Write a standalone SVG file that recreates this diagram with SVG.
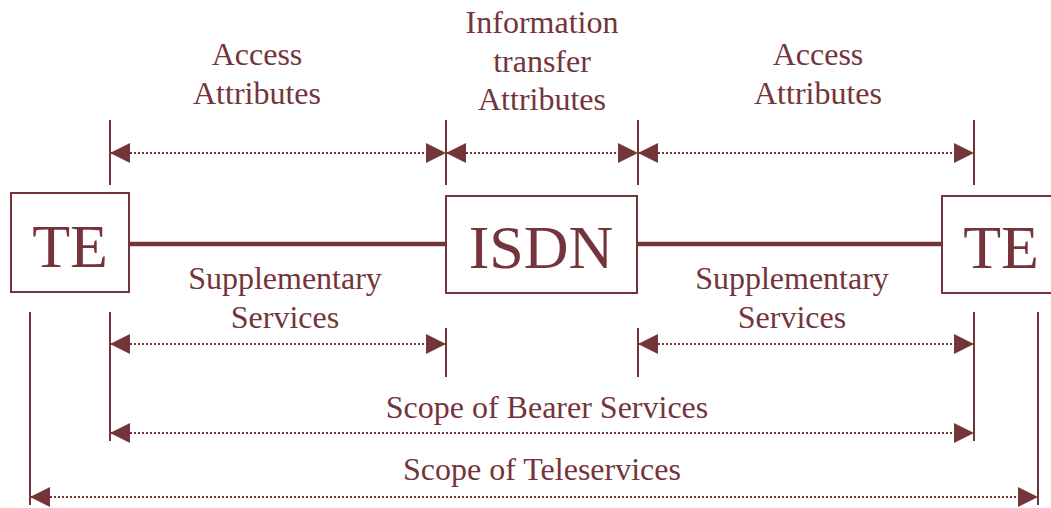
<svg xmlns="http://www.w3.org/2000/svg" width="1051" height="508" viewBox="0 0 1051 508">
  <style>
    .t { font-family: "Liberation Serif", "Times New Roman", serif; fill: #74353a; text-anchor: middle; }
    .lbl { font-size: 32px; }
    .big { font-size: 62px; }
    .box { fill: #ffffff; stroke: #74353a; stroke-width: 2; }
    .link { stroke: #74353a; stroke-width: 4.5; fill: none; }
    .tick { stroke: #74353a; stroke-width: 2; fill: none; }
    .dim { stroke: #74353a; stroke-width: 2; stroke-dasharray: 2 2; fill: none; }
    .head { fill: #74353a; }
  </style>
  <defs>
    <marker id="arr" viewBox="0 0 20 20" refX="20" refY="10" markerWidth="20" markerHeight="20" markerUnits="userSpaceOnUse" orient="auto-start-reverse">
      <path d="M0,0 L20,10 L0,20 Z" class="head"/>
    </marker>
  </defs>

  <g id="connectors">
    <line class="link" x1="129" y1="244" x2="446" y2="244"/>
    <line class="link" x1="637" y1="244" x2="942" y2="244"/>
    <line class="tick" x1="110" y1="120" x2="110" y2="185"/>
    <line class="tick" x1="446" y1="120" x2="446" y2="185"/>
    <line class="tick" x1="638" y1="120" x2="638" y2="185"/>
    <line class="tick" x1="974" y1="120" x2="974" y2="185"/>
    <line class="tick" x1="30" y1="312" x2="30" y2="505"/>
    <line class="tick" x1="110" y1="312" x2="110" y2="441"/>
    <line class="tick" x1="974" y1="312" x2="974" y2="441"/>
    <line class="tick" x1="1038" y1="312" x2="1038" y2="505"/>
    <line class="tick" x1="446" y1="328" x2="446" y2="377"/>
    <line class="tick" x1="638" y1="328" x2="638" y2="377"/>
    <line class="dim" x1="110" y1="153" x2="446" y2="153" marker-start="url(#arr)" marker-end="url(#arr)"/>
    <line class="dim" x1="446" y1="153" x2="638" y2="153" marker-start="url(#arr)" marker-end="url(#arr)"/>
    <line class="dim" x1="638" y1="153" x2="974" y2="153" marker-start="url(#arr)" marker-end="url(#arr)"/>
    <line class="dim" x1="110" y1="344" x2="446" y2="344" marker-start="url(#arr)" marker-end="url(#arr)"/>
    <line class="dim" x1="638" y1="344" x2="974" y2="344" marker-start="url(#arr)" marker-end="url(#arr)"/>
    <line class="dim" x1="110" y1="433" x2="974" y2="433" marker-start="url(#arr)" marker-end="url(#arr)"/>
    <line class="dim" x1="30" y1="497" x2="1038" y2="497" marker-start="url(#arr)" marker-end="url(#arr)"/>
  </g>

  <g id="te-left">
    <rect class="box" x="11" y="193" width="118" height="99"/>
    <text class="t big" x="70" y="267">TE</text>
  </g>
  <g id="isdn">
    <rect class="box" x="446" y="196" width="191" height="97"/>
    <text class="t big" x="541" y="268">ISDN</text>
  </g>
  <g id="te-right">
    <rect class="box" x="942" y="196" width="118" height="97"/>
    <text class="t big" x="1001" y="268">TE</text>
  </g>

  <g id="labels">
    <text class="t lbl" x="257" y="65">Access</text>
    <text class="t lbl" x="257" y="104">Attributes</text>
    <text class="t lbl" x="542" y="33">Information</text>
    <text class="t lbl" x="542" y="72">transfer</text>
    <text class="t lbl" x="542" y="110">Attributes</text>
    <text class="t lbl" x="818" y="65">Access</text>
    <text class="t lbl" x="818" y="104">Attributes</text>
    <text class="t lbl" x="285" y="289">Supplementary</text>
    <text class="t lbl" x="285" y="328">Services</text>
    <text class="t lbl" x="792" y="289">Supplementary</text>
    <text class="t lbl" x="792" y="328">Services</text>
    <text class="t lbl" x="547" y="418">Scope of Bearer Services</text>
    <text class="t lbl" x="542" y="480">Scope of Teleservices</text>
  </g>
</svg>
